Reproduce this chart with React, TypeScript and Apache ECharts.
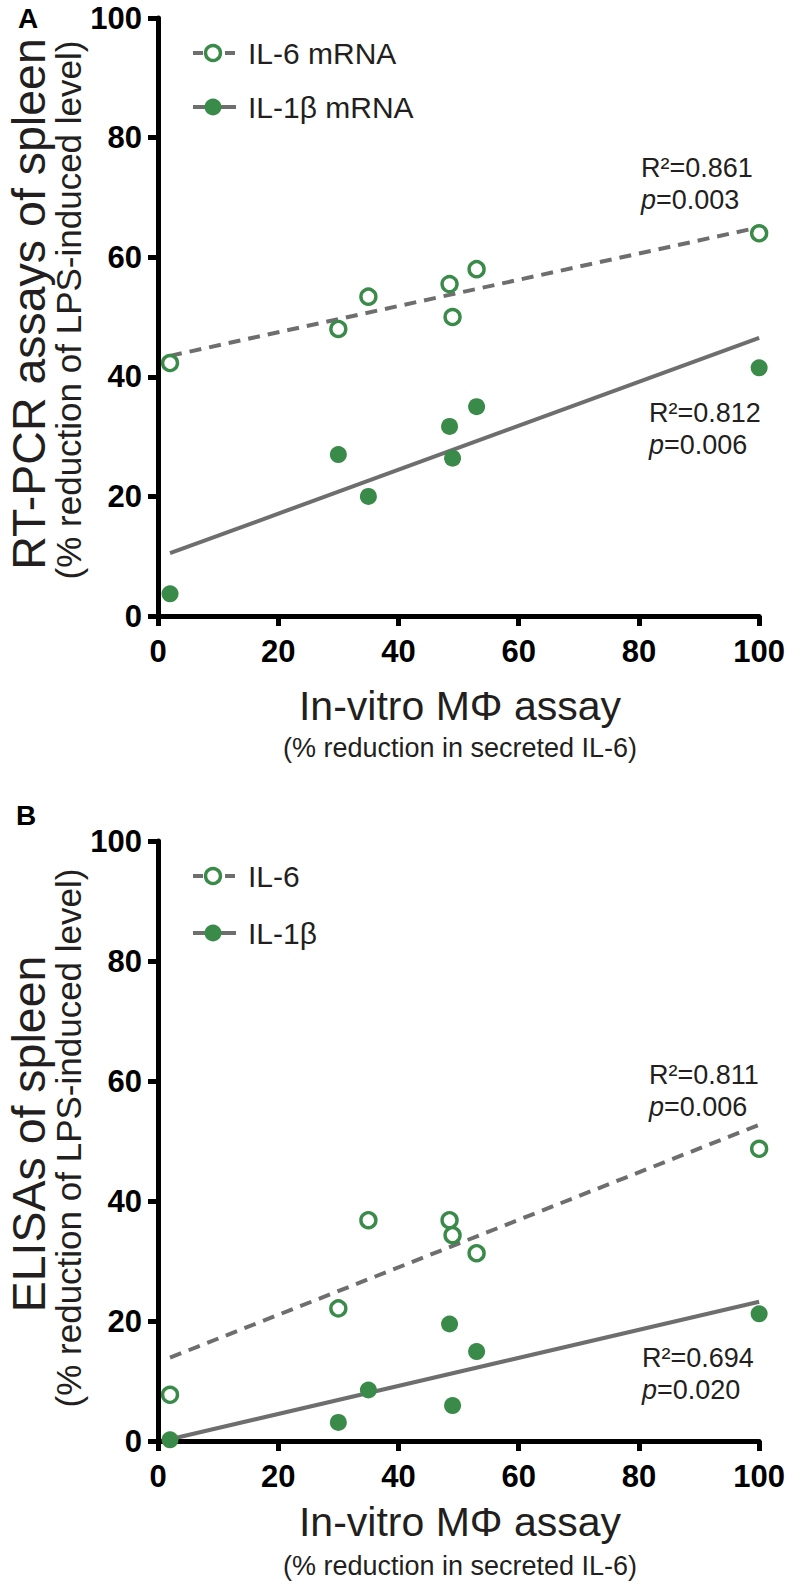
import React, { useEffect, useRef } from "react";
import * as echarts from "echarts";

// ---- data ----
const xValues = [2, 30, 35, 48.5, 49, 53, 100];

// Panel A: RT-PCR assays of spleen
const panelA_IL6 = [42.3, 48.0, 53.4, 55.5, 50.0, 58.0, 64.0];
const panelA_IL1b = [3.7, 27.0, 20.0, 31.7, 26.4, 35.0, 41.5];
// Panel B: ELISAs of spleen
const panelB_IL6 = [7.7, 22.1, 36.8, 36.8, 34.3, 31.3, 48.7];
const panelB_IL1b = [0.2, 3.1, 8.5, 19.5, 5.9, 14.9, 21.2];

// regression lines (end points)
const fitX = [2, 100];
const fitA_IL6 = [43.5, 65.0];
const fitA_IL1b = [10.5, 46.5];
const fitB_IL6 = [13.9, 52.7];
const fitB_IL1b = [0.3, 23.2];

const xTicks = { min: 0, max: 100, interval: 20 };
const yTicks = { min: 0, max: 100, interval: 20 };

const statsA = [
  { r2: "0.861", p: "0.003" },
  { r2: "0.812", p: "0.006" },
];
const statsB = [
  { r2: "0.811", p: "0.006" },
  { r2: "0.694", p: "0.020" },
];

const legendA = ["IL-6 mRNA", "IL-1β mRNA"];
const legendB = ["IL-6", "IL-1β"];

const GREEN = "#3a8b4a";
const GRAY = "#6e6e6e";
const FONT = "'Liberation Sans', Arial, Helvetica, sans-serif";

const pairs = (xs: number[], ys: number[]) => xs.map((x, i) => [x, ys[i]]);

function axisPair(idx: number) {
  const common = {
    type: "value" as const,
    gridIndex: idx,
    axisLine: { show: true, onZero: false, lineStyle: { color: "#000", width: 5 } },
    axisTick: { show: true, length: 10, lineStyle: { color: "#000", width: 5 } },
    splitLine: { show: false },
  };
  return {
    x: {
      ...common,
      ...xTicks,
      axisLabel: { fontSize: 31, fontWeight: "bold", color: "#000", fontFamily: FONT, margin: 20 },
    },
    y: {
      ...common,
      ...yTicks,
      axisLabel: { fontSize: 31, fontWeight: "bold", color: "#000", fontFamily: FONT, margin: 16 },
    },
  };
}

function seriesFor(idx: number, il6: number[], il1b: number[], f6: number[], f1: number[]) {
  return [
    {
      type: "line",
      xAxisIndex: idx,
      yAxisIndex: idx,
      data: pairs(fitX, f6),
      showSymbol: false,
      symbol: "none",
      lineStyle: { color: GRAY, width: 4, type: [12, 8] },
      z: 2,
      silent: true,
    },
    {
      type: "line",
      xAxisIndex: idx,
      yAxisIndex: idx,
      data: pairs(fitX, f1),
      showSymbol: false,
      symbol: "none",
      lineStyle: { color: GRAY, width: 4 },
      z: 2,
      silent: true,
    },
    {
      type: "scatter",
      xAxisIndex: idx,
      yAxisIndex: idx,
      data: pairs(xValues, il6),
      symbol: "circle",
      symbolSize: 15,
      itemStyle: { color: "#fff", borderColor: GREEN, borderWidth: 3.4, opacity: 1 },
      z: 4,
    },
    {
      type: "scatter",
      xAxisIndex: idx,
      yAxisIndex: idx,
      data: pairs(xValues, il1b),
      symbol: "circle",
      symbolSize: 17,
      itemStyle: { color: GREEN, opacity: 1 },
      z: 4,
    },
  ];
}

function statText(x: number, y: number, s: { r2: string; p: string }) {
  return {
    type: "text",
    x,
    y,
    style: {
      text: `{n|R²=${s.r2}}\n{i|p}{n|=${s.p}}`,
      rich: {
        n: { fontSize: 27, fontFamily: FONT, fill: "#231f20", lineHeight: 32 },
        i: { fontSize: 27, fontFamily: FONT, fontStyle: "italic", fill: "#231f20", lineHeight: 32 },
      },
      align: "left",
      verticalAlign: "middle",
    },
  };
}

function legendItems(x0: number, yTop: number, yBot: number, labels: string[]) {
  return [
    {
      type: "line",
      shape: { x1: x0, y1: yTop, x2: x0 + 43, y2: yTop },
      style: { stroke: GRAY, lineWidth: 4, lineDash: [10, 6] },
    },
    {
      type: "circle",
      shape: { cx: x0 + 20, cy: yTop, r: 7.5 },
      style: { fill: "#fff", stroke: GREEN, lineWidth: 3.4 },
    },
    {
      type: "text",
      x: x0 + 55,
      y: yTop,
      style: { text: labels[0], fontSize: 30, fontFamily: FONT, fill: "#231f20", align: "left", verticalAlign: "middle" },
    },
    {
      type: "line",
      shape: { x1: x0, y1: yBot, x2: x0 + 43, y2: yBot },
      style: { stroke: GRAY, lineWidth: 4 },
    },
    {
      type: "circle",
      shape: { cx: x0 + 20, cy: yBot, r: 8.5 },
      style: { fill: GREEN },
    },
    {
      type: "text",
      x: x0 + 55,
      y: yBot,
      style: { text: labels[1], fontSize: 30, fontFamily: FONT, fill: "#231f20", align: "left", verticalAlign: "middle" },
    },
  ];
}

function yTitle(cx: number, cy: number, text: string, size: number) {
  return {
    type: "text",
    x: cx,
    y: cy,
    rotation: Math.PI / 2,
    style: { text, fontSize: size, fontFamily: FONT, fill: "#231f20", align: "center", verticalAlign: "middle" },
  };
}

function xTitle(cx: number, cy: number, text: string, size: number) {
  return {
    type: "text",
    x: cx,
    y: cy,
    style: { text, fontSize: size, fontFamily: FONT, fill: "#231f20", align: "center", verticalAlign: "middle" },
  };
}

function panelLabel(x: number, y: number, text: string) {
  return {
    type: "text",
    x,
    y,
    style: { text, fontSize: 28, fontWeight: "bold", fontFamily: FONT, fill: "#000", align: "center", verticalAlign: "middle" },
  };
}

export default function App() {
  const ref = useRef<HTMLDivElement>(null);
  useEffect(() => {
    if (!ref.current) return;
    const chart = echarts.init(ref.current, undefined, { renderer: "svg" });
    const a = axisPair(0);
    const b = axisPair(1);
    chart.setOption({
      animation: false,
      backgroundColor: "#fff",
      textStyle: { fontFamily: FONT },
      grid: [
        { left: 158, width: 602, top: 18, height: 598, containLabel: false },
        { left: 158, width: 602, top: 841, height: 600, containLabel: false },
      ],
      xAxis: [a.x, b.x],
      yAxis: [a.y, b.y],
      series: [
        ...seriesFor(0, panelA_IL6, panelA_IL1b, fitA_IL6, fitA_IL1b),
        ...seriesFor(1, panelB_IL6, panelB_IL1b, fitB_IL6, fitB_IL1b),
      ],
      graphic: [
        panelLabel(28, 18, "A"),
        panelLabel(26, 815, "B"),
        ...legendItems(193, 53, 107, legendA),
        ...legendItems(193, 876, 933, legendB),
        statText(641, 184, statsA[0]),
        statText(649, 429, statsA[1]),
        statText(649, 1091, statsB[0]),
        statText(642, 1374, statsB[1]),
        yTitle(29, 304, "RT-PCR assays of spleen", 46.5),
        yTitle(68, 310, "(% reduction of LPS-induced level)", 35),
        yTitle(29, 1134, "ELISAs of spleen", 46.5),
        yTitle(68, 1138, "(% reduction of LPS-induced level)", 35),
        xTitle(460, 706, "In-vitro MΦ assay", 41),
        xTitle(460, 748, "(% reduction in secreted IL-6)", 27),
        xTitle(460, 1522, "In-vitro MΦ assay", 41),
        xTitle(460, 1566, "(% reduction in secreted IL-6)", 27),
      ],
    });
    return () => chart.dispose();
  }, []);
  return (
    <div
      ref={ref}
      style={{ position: "absolute", left: 0, top: 0, width: 788, height: 1588, background: "#fff" }}
    />
  );
}
